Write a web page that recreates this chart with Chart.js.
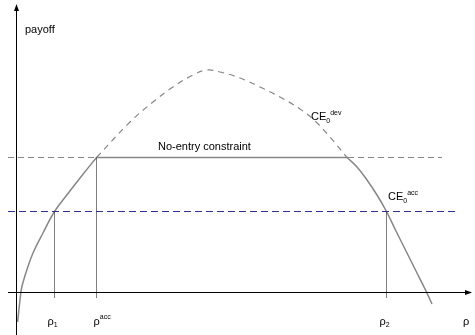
<!DOCTYPE html>
<html>
<head>
<meta charset="utf-8">
<script src="https://cdn.jsdelivr.net/npm/chart.js@4"></script>
<style>
  body { margin: 0; background: #fff; }
  #wrap { width: 475px; height: 335px; }
</style>
</head>
<body>
<div id="wrap"><canvas id="myChart" width="475" height="335"></canvas></div>
<script>
// accumulation curve, left branch (rho, payoff)
var accLeftRho = [0.04, 0.1, 0.14, 0.27, 0.425, 0.675, 0.9625, 1.3, 1.65, 2.0125];
var accLeftPay = [-1.2, -0.32, 0.16, 0.88, 1.56, 2.36, 3.22, 3.94, 4.66, 5.38];
// deviation curve (dashed)
var devRho = [2.0125, 2.85, 3.425, 3.925, 4.425, 4.775, 5.1, 5.6, 6.1, 6.6, 7.1, 7.475, 7.85, 8.275];
var devPay = [5.38, 6.8, 7.6, 8.2, 8.68, 8.88, 8.8, 8.56, 8.2, 7.8, 7.32, 6.84, 6.2, 5.38];
// accumulation curve, right branch
var accRightRho = [8.275, 8.525, 8.775, 9.025, 9.2625, 9.5, 9.75, 10.0, 10.25, 10.4];
var accRightPay = [5.38, 5.0, 4.48, 3.88, 3.22, 2.44, 1.64, 0.84, 0.04, -0.48];

var noEntryLevel = 5.38;
var accLevel = 3.22;
var rho1 = 0.9625, rhoAcc = 2.0125, rho2 = 9.2625;

function pts(xs, ys) {
    return xs.map(function (x, i) { return { x: x, y: ys[i] }; });
}

var gray = '#878787';
var navy = '#2e3192';

var annot = {
    id: 'annot',
    afterDraw: function (chart) {
        var c = chart.ctx, xs = chart.scales.x, ys = chart.scales.y;
        c.save();
        // axes with arrow heads
        c.strokeStyle = '#000';
        c.fillStyle = '#000';
        c.lineWidth = 1;
        c.beginPath();
        c.moveTo(16.5, 335);
        c.lineTo(16.5, 8);
        c.moveTo(8, 292.5);
        c.lineTo(468, 292.5);
        c.stroke();
        c.beginPath();
        c.moveTo(16.5, 4); c.lineTo(14, 11); c.lineTo(19, 11); c.closePath();
        c.moveTo(472, 292.5); c.lineTo(465, 290); c.lineTo(465, 295); c.closePath();
        c.fill();

        function label(parts, x, y) {
            var px = x;
            parts.forEach(function (p) {
                c.font = p.size + 'px "Liberation Sans", Arial, sans-serif';
                c.fillText(p.t, px, y + (p.dy || 0));
                px += c.measureText(p.t).width;
            });
        }
        c.textBaseline = 'alphabetic';
        c.textAlign = 'left';
        label([{ t: 'payoff', size: 11 }], 25, 33);
        label([{ t: 'No-entry constraint', size: 11 }], xs.getPixelForValue(3.55), ys.getPixelForValue(noEntryLevel) - 8);
        label([{ t: 'CE', size: 11 }, { t: '0', size: 7, dy: 3 }, { t: 'dev', size: 7, dy: -5 }], 311, 120);
        label([{ t: 'CE', size: 11 }, { t: '0', size: 7, dy: 3 }, { t: 'acc', size: 7, dy: -5 }], 388, 200);
        var by = 325;
        label([{ t: 'ρ', size: 11 }, { t: '1', size: 7, dy: 2 }], xs.getPixelForValue(rho1) - 7, by);
        label([{ t: 'ρ', size: 11 }, { t: 'acc', size: 7, dy: -6 }], xs.getPixelForValue(rhoAcc) - 3, by);
        label([{ t: 'ρ', size: 11 }, { t: '2', size: 7, dy: 2 }], xs.getPixelForValue(rho2) - 7, by);
        label([{ t: 'ρ', size: 11 }], 463, by);
        c.restore();
    }
};

const ctx = document.getElementById('myChart');
var myChart = new Chart(ctx, {
    type: 'scatter',
    data: {
        datasets: [
            { data: pts([-0.2, 10.65], [noEntryLevel, noEntryLevel]), borderColor: gray, borderDash: [6, 4], borderWidth: 1.2 },
            { data: pts([-0.2, 11.05], [accLevel, accLevel]), borderColor: navy, borderDash: [7, 4], borderWidth: 1.2 },
            { data: pts([rhoAcc, 8.3], [noEntryLevel, noEntryLevel]), borderColor: gray, borderWidth: 1.5 },
            { data: pts([rho1, rho1], [accLevel, -0.24]), borderColor: '#000', borderDash: [1, 1], borderWidth: 1 },
            { data: pts([rhoAcc, rhoAcc], [noEntryLevel, -0.24]), borderColor: '#000', borderDash: [1, 1], borderWidth: 1 },
            { data: pts([rho2, rho2], [accLevel, -0.24]), borderColor: '#000', borderDash: [1, 1], borderWidth: 1 },
            { data: pts(accLeftRho, accLeftPay), borderColor: gray, borderWidth: 1.5, tension: 0.4 },
            { data: pts(devRho, devPay), borderColor: gray, borderDash: [6, 5], borderWidth: 1.2, tension: 0.4 },
            { data: pts(accRightRho, accRightPay), borderColor: gray, borderWidth: 1.5, tension: 0.4 }
        ].map(function (d) {
            d.showLine = true;
            d.pointRadius = 0;
            d.pointHoverRadius = 0;
            d.fill = false;
            return d;
        })
    },
    options: {
        responsive: false,
        animation: false,
        layout: { padding: 0 },
        plugins: { legend: { display: false }, tooltip: { enabled: false } },
        scales: {
            x: { type: 'linear', display: false, min: -0.4, max: 11.475 },
            y: { type: 'linear', display: false, min: -1.72, max: 11.68 }
        }
    },
    plugins: [annot]
});
</script>
</body>
</html>
